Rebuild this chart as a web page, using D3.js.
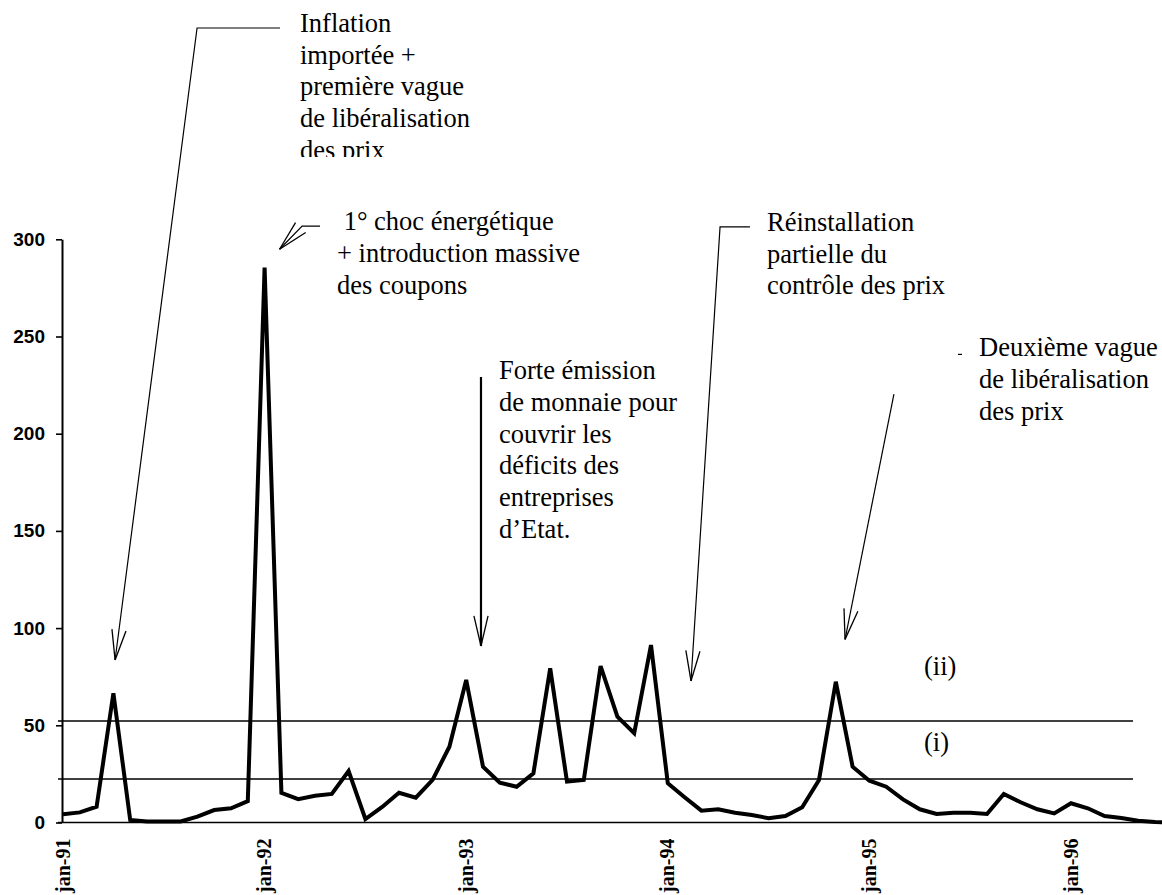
<!DOCTYPE html>
<html>
<head>
<meta charset="utf-8">
<script src="https://cdn.jsdelivr.net/npm/d3@7"></script>
<style>
  body { margin: 0; background: #fff; }
</style>
</head>
<body>
<div id="chart"></div>
<script>
// monthly values, jan-91 .. jul-96
const values = [
  4.2, 5.2, 8.1, 66.5, 1.3, 0.5, 0.5, 0.5, 3, 6.4, 7.3, 11,
  285.4, 15.3, 12, 13.8, 14.7, 26.5, 1.8, 8, 15.3, 12.8, 21.9, 39,
  73.3, 28.7, 20.5, 18.4, 25.3, 79.3, 21, 21.9, 80.5, 54.4, 45.9, 91.3,
  20.2, 13, 6.1, 6.8, 5, 3.9, 2.2, 3.3, 7.8, 21.9, 72.4, 28.7,
  21.5, 18.4, 11.9, 6.8, 4.4, 5, 5, 4.4, 14.7, 10.4, 6.8, 4.7,
  9.9, 7.3, 3.3, 2.3, 0.9, 0.3, 0
];
const tickMonths = [0, 12, 24, 36, 48, 60];
const tickLabels = ['jan-91', 'jan-92', 'jan-93', 'jan-94', 'jan-95', 'jan-96'];
const yTicks = [0, 50, 100, 150, 200, 250, 300];

// seuils (i) et (ii)
const thresholds = [22.4, 52.2];
const thresholdLabels = ['(i)', '(ii)'];

// annotations: leader points in (month, value), last point is the arrow tip
const notes = [
  { lines: ['Inflation', 'importée +', 'première vague', 'de libéralisation', 'des prix'],
    tx: 300, ty: 31.7, clip: 157,
    path: [[12.92, 408.7], [7.98, 408.7], [3.1, 83.6]] },
  { lines: [' 1° choc énergétique', '+ introduction massive', 'des coupons'],
    tx: 337, ty: 230,
    path: [[15.3, 306.8], [14.23, 306.8], [12.89, 294.9]] },
  { lines: ['Forte émission', 'de monnaie pour', 'couvrir les', 'déficits des', 'entreprises', 'd\u2019Etat.'],
    tx: 499, ty: 379,
    path: [[24.88, 229.2], [24.88, 90.8]], width: 2.2 },
  { lines: ['Réinstallation', 'partielle du', 'contrôle des prix'],
    tx: 767, ty: 230.7,
    path: [[40.89, 306.4], [39.11, 306.4], [37.38, 72.8]] },
  { lines: ['Deuxième vague', 'de libéralisation', 'des prix'],
    tx: 979, ty: 356,
    path: [[49.46, 220.4], [46.55, 94.2]], dash: [[53.27, 240.8], [53.51, 240.8]] }
];

const serif = '"Liberation Serif", "Times New Roman", serif';
const sans = '"Liberation Sans", Arial, sans-serif';

const W = 1162, H = 895;
const svg = d3.select('#chart').append('svg')
  .attr('width', W)
  .attr('height', H);

const x = d3.scaleLinear().domain([0, 66]).range([63, 63 + 66 * 16.8]);
const y = d3.scaleLinear().domain([0, 300]).range([822.5, 239.3]);

// seuils
svg.selectAll('.thr')
  .data(thresholds)
  .join('line')
  .attr('class', 'thr')
  .attr('x1', 58).attr('x2', 1133)
  .attr('y1', d => y(d)).attr('y2', d => y(d))
  .attr('stroke', '#000').attr('stroke-width', 1.4);

// labels sit above each threshold line
svg.selectAll('.thr-label')
  .data(thresholds)
  .join('text')
  .attr('class', 'thr-label')
  .attr('font-family', serif)
  .attr('font-size', 26.5)
  .attr('x', 924)
  .attr('y', (d, i) => y(d) - [28, 46][i])
  .text((d, i) => thresholdLabels[i]);

// ligne de base
svg.append('line')
  .attr('x1', 58).attr('x2', W)
  .attr('y1', y(0)).attr('y2', y(0))
  .attr('stroke', '#000').attr('stroke-width', 1.5);

// axe Y
const yAxisG = svg.append('g')
  .attr('transform', 'translate(62,0)')
  .call(d3.axisLeft(y).tickValues(yTicks).tickSize(6).tickSizeOuter(0).tickPadding(11));
yAxisG.select('.domain').attr('stroke-width', 2);
yAxisG.selectAll('.tick line').attr('stroke-width', 1.6);
yAxisG.selectAll('text')
  .attr('font-family', sans)
  .attr('font-weight', 'bold')
  .attr('font-size', 19);

// axe X (labels only)
const xAxisG = svg.append('g')
  .attr('transform', `translate(0,${y(0)})`)
  .call(d3.axisBottom(x).tickValues(tickMonths).tickSize(0).tickFormat((d, i) => tickLabels[i]));
xAxisG.select('.domain').remove();
xAxisG.selectAll('text')
  .attr('font-family', serif)
  .attr('font-weight', 'bold')
  .attr('font-size', 20)
  .attr('y', 0).attr('dy', 0)
  .attr('transform', 'translate(6,16) rotate(-90)')
  .style('text-anchor', 'end');

// série
const line = d3.line()
  .x((d, i) => x(i))
  .y(d => y(d));

svg.append('path')
  .datum(values)
  .attr('d', line)
  .attr('fill', 'none')
  .attr('stroke', '#000')
  .attr('stroke-width', 4)
  .attr('stroke-linejoin', 'miter')
  .attr('stroke-miterlimit', 3);

// annotations
svg.append('clipPath').attr('id', 'clip-top')
  .append('rect').attr('x', 0).attr('y', 0).attr('width', W).attr('height', 157);

notes.forEach(n => {
  const pts = n.path.map(p => [x(p[0]), y(p[1])]);
  svg.append('path')
    .attr('d', d3.line()(pts))
    .attr('fill', 'none')
    .attr('stroke', '#000')
    .attr('stroke-width', n.width || 1.2);

  // pointe de flèche ouverte
  const tip = pts[pts.length - 1], prev = pts[pts.length - 2];
  const ang = Math.atan2(prev[1] - tip[1], prev[0] - tip[0]);
  [-0.23, 0.23].forEach(a => {
    svg.append('line')
      .attr('x1', tip[0]).attr('y1', tip[1])
      .attr('x2', tip[0] + 31 * Math.cos(ang + a))
      .attr('y2', tip[1] + 31 * Math.sin(ang + a))
      .attr('stroke', '#000').attr('stroke-width', 1.3);
  });

  if (n.dash) {
    svg.append('line')
      .attr('x1', x(n.dash[0][0])).attr('x2', x(n.dash[1][0]))
      .attr('y1', y(n.dash[0][1])).attr('y2', y(n.dash[1][1]))
      .attr('stroke', '#000').attr('stroke-width', 1.2);
  }

  const t = svg.append('text')
    .attr('font-family', serif)
    .attr('font-size', 26.5)
    .attr('x', n.tx).attr('y', n.ty)
    .attr('xml:space', 'preserve');
  if (n.clip) t.attr('clip-path', 'url(#clip-top)');
  t.selectAll('tspan')
    .data(n.lines)
    .join('tspan')
    .attr('x', n.tx)
    .attr('dy', (d, i) => i === 0 ? 0 : 31.8)
    .text(d => d);
});
</script>
</body>
</html>
